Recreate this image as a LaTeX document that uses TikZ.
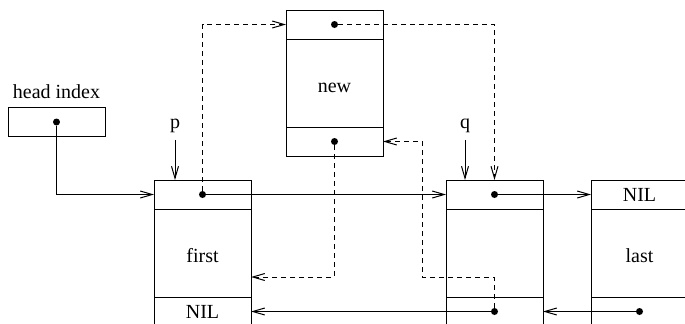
\documentclass[tikz,border=0pt]{standalone}
\usepackage{fontspec}
\setmainfont{Liberation Serif}
\usetikzlibrary{arrows.meta,positioning}

\begin{document}
\begin{tikzpicture}[
    x=0.5pt, y=-0.5pt,
    every node/.style={font=\fontsize{10}{12}\selectfont},
    cell/.style={draw, rectangle, minimum width=48.5pt, minimum height=14.5pt, inner sep=0pt, outer sep=0pt},
    body/.style={cell, minimum height=44pt, text height=9.5pt, text depth=0pt},
    dot/.style={circle, fill, inner sep=0pt, minimum size=3.5pt},
    ptr/.style={-{Straight Barb[length=6pt,width=3.5pt]}, line width=0.5pt},
    newptr/.style={ptr, dashed, dash pattern=on 2.5pt off 2pt}
]
\useasboundingbox (0,0) rectangle (685,323);
\clip (0,0) rectangle (685,323);

% head index
\node[cell] (head) at (56.5,122) {};
\node[above=1pt of head] (headlbl) {head index};
\node[dot] (hdot) at (head) {};

% first element
\node[cell] (ftop) at (202.5,194.5) {};
\node[body, below=0pt of ftop] (fmid) {first};
\node[cell, below=0pt of fmid] (fbot) {NIL};
\node[dot] (fdot) at (ftop) {};

% new element
\node[cell] (ntop) at (334.5,24.5) {};
\node[body, below=0pt of ntop] (nmid) {new};
\node[cell, below=0pt of nmid] (nbot) {};
\node[dot] (ndot) at (ntop) {};
\node[dot] (nbdot) at (nbot) {};

% element q
\node[cell] (qtop) at (494.5,194.5) {};
\node[body, below=0pt of qtop] (qmid) {};
\node[cell, below=0pt of qmid] (qbot) {};
\node[dot] (qdot) at (qtop) {};
\node[dot] (qbdot) at (qbot) {};

% last element
\node[cell] (ltop) at (639.5,194.5) {NIL};
\node[body, below=0pt of ltop] (lmid) {last};
\node[cell, below=0pt of lmid] (lbot) {};
\node[dot] (lbdot) at (lbot) {};

% pointers p and q
\node (p) at (175,126) {p};
\node (q) at (465,126) {q};
\draw[ptr] (p) -- (p |- ftop.north);
\draw[ptr] (q) -- (q |- qtop.north);

% old links
\draw[ptr] (hdot) |- (ftop.west);
\draw[ptr] (fdot) -- (qtop.west);
\draw[ptr] (qdot) -- (ltop.west);
\draw[ptr] (qbdot) -- (qbdot -| fbot.east);
\draw[ptr] (lbdot) -- (lbdot -| qbot.east);

% new links
\coordinate (bend) at (422,277);
\draw[newptr] (fdot) |- (ntop.west);
\draw[newptr] (ndot) -| (qtop.north);
\draw[newptr] (nbdot) |- ([yshift=-12pt]fmid.east);
\draw[newptr] (qbdot) |- (bend) |- (nbot.east);

\end{tikzpicture}
\end{document}
